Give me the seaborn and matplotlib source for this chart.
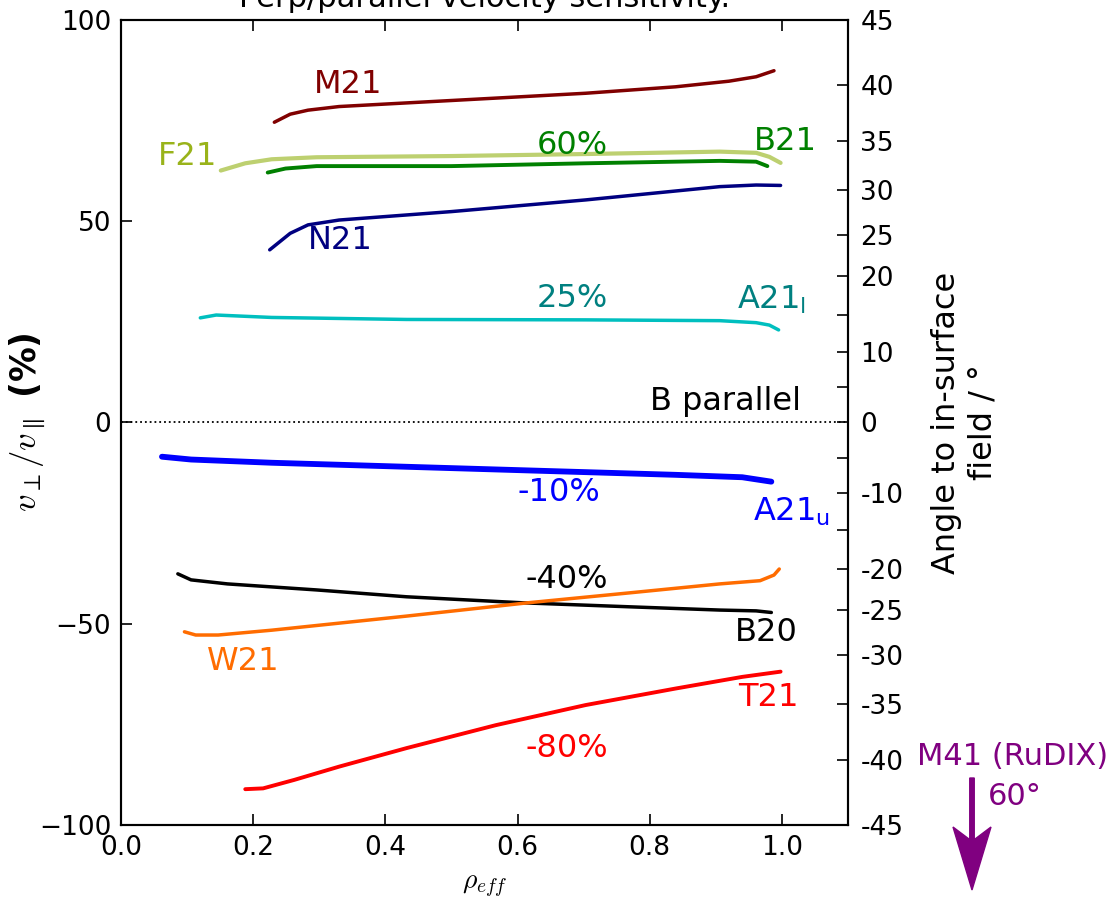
import numpy as np
import pandas as pd
import matplotlib
matplotlib.use("Agg")
import matplotlib.pyplot as plt
import matplotlib.patches as mpatches
import seaborn as sns

# ---------------- data ----------------
m21_x = [0.232, 0.256, 0.283, 0.330, 0.500, 0.703, 0.839, 0.920, 0.961, 0.988]
m21_y = [74.6, 76.6, 77.6, 78.5, 80.0, 81.8, 83.4, 84.8, 85.9, 87.4]

f21_x = [0.151, 0.188, 0.228, 0.296, 0.500, 0.703, 0.906, 0.961, 0.981, 0.998]
f21_y = [62.6, 64.4, 65.4, 65.9, 66.2, 66.7, 67.3, 67.0, 66.0, 64.5]

b21_x = [0.222, 0.249, 0.296, 0.500, 0.703, 0.906, 0.961, 0.978]
b21_y = [62.1, 63.1, 63.7, 63.7, 64.4, 65.0, 64.8, 63.7]

n21_x = [0.225, 0.256, 0.283, 0.330, 0.500, 0.703, 0.906, 0.961, 0.998]
n21_y = [42.9, 47.0, 49.1, 50.3, 52.4, 55.3, 58.6, 59.0, 58.9]

a21l_x = [0.120, 0.144, 0.228, 0.432, 0.703, 0.906, 0.961, 0.981, 0.995]
a21l_y = [26.0, 26.7, 26.1, 25.6, 25.5, 25.3, 24.8, 24.2, 23.0]

a21u_x = [0.062, 0.106, 0.228, 0.432, 0.635, 0.839, 0.940, 0.984]
a21u_y = [-8.5, -9.2, -10.0, -11.0, -12.0, -13.0, -13.6, -14.7]

b20_x = [0.086, 0.106, 0.161, 0.296, 0.432, 0.608, 0.771, 0.906, 0.961, 0.984]
b20_y = [-37.6, -39.1, -40.1, -41.6, -43.3, -44.8, -45.8, -46.6, -46.8, -47.2]

w21_x = [0.096, 0.113, 0.147, 0.228, 0.432, 0.615, 0.771, 0.906, 0.967, 0.988, 0.996]
w21_y = [-52.0, -52.8, -52.8, -51.6, -48.1, -44.8, -42.3, -40.1, -39.3, -37.9, -36.4]

t21_x = [0.188, 0.215, 0.262, 0.330, 0.432, 0.567, 0.703, 0.839, 0.940, 0.998]
t21_y = [-91.1, -90.9, -88.8, -85.5, -80.9, -75.2, -70.2, -66.1, -63.2, -61.9]

x_ticks = [0.0, 0.2, 0.4, 0.6, 0.8, 1.0]
y_ticks = [-100, -50, 0, 50, 100]
angle_ticks = [45, 40, 35, 30, 25, 20, 15, 10, 5, 0, -5, -10, -15, -20, -25, -30, -35, -40, -45]
angle_labels = ["45", "40", "35", "30", "25", "20", "", "10", "", "0", "", "-10", "",
                "-20", "-25", "-30", "-35", "-40", "-45"]

# ---------------- style ----------------
sns.set_style("ticks")
plt.rcParams["font.family"] = ["DejaVu Sans"]
plt.rcParams["mathtext.fontset"] = "cm"
plt.rcParams["xtick.direction"] = "in"
plt.rcParams["ytick.direction"] = "in"
plt.rcParams["axes.linewidth"] = 1.5
plt.rcParams["axes.edgecolor"] = "black"
plt.rcParams["text.color"] = "black"
plt.rcParams["axes.labelcolor"] = "black"
plt.rcParams["xtick.color"] = "black"
plt.rcParams["ytick.color"] = "black"

fig = plt.figure(figsize=(11.17, 9.0), dpi=100)
ax = fig.add_axes([121 / 1117, 1 - 825 / 900, (848 - 121) / 1117, (825 - 20) / 900])

series = [
    (m21_x, m21_y, "#800000", 2.5),
    (f21_x, f21_y, "#bdd070", 3.0),
    (b21_x, b21_y, "#008000", 2.8),
    (n21_x, n21_y, "#000080", 2.5),
    (a21l_x, a21l_y, "#00bfbf", 2.5),
    (a21u_x, a21u_y, "#0000ff", 4.2),
    (b20_x, b20_y, "#000000", 2.5),
    (w21_x, w21_y, "#ff6c00", 2.5),
    (t21_x, t21_y, "#ff0000", 2.8),
]
for xs, ys, col, lw in series:
    df = pd.DataFrame({"x": xs, "y": ys})
    sns.lineplot(data=df, x="x", y="y", ax=ax, color=col, lw=lw,
                 sort=False, estimator=None)

ax.axhline(0, color="black", ls=":", lw=1.3)

ax.set_xlim(0, 1.1)
ax.set_ylim(-100, 100)
ax.set_xticks(x_ticks)
ax.set_yticks(y_ticks)
ax.tick_params(axis="both", which="major", labelsize=19, length=8, width=1.2,
               top=True, right=False, pad=7)
ax.set_xlabel(r"$\rho_{eff}$", fontsize=20, labelpad=8)
ax.set_ylabel(r"$v_\perp/v_\parallel$ (%)", fontsize=25, fontweight="bold")
ax.yaxis.set_label_coords(-0.10, 0.5)
ax.set_title("Perp/parallel velocity sensitivity.", fontsize=22, pad=9)

# annotations
labels = [
    ("M21", 0.344, 83.9, "#800000"),
    ("F21", 0.100, 66.2, "#99b31a"),
    ("60%", 0.683, 68.7, "#008000"),
    ("B21", 1.006, 69.7, "#008000"),
    ("N21", 0.332, 45.3, "#000080"),
    ("25%", 0.683, 30.9, "#008080"),
    (r"A21$_\mathregular{l}$", 0.985, 30.4, "#008080"),
    ("B parallel", 0.914, 5.1, "#000000"),
    ("-10%", 0.662, -17.3, "#0000ff"),
    (r"A21$_\mathregular{u}$", 1.015, -22.2, "#0000ff"),
    ("-40%", 0.674, -39.1, "#000000"),
    ("B20", 0.977, -52.1, "#000000"),
    ("W21", 0.185, -59.5, "#ff6c00"),
    ("T21", 0.980, -68.2, "#ff0000"),
    ("-80%", 0.674, -80.9, "#ff0000"),
]
for txt, tx, ty, col in labels:
    ax.text(tx, ty, txt, color=col, fontsize=23, ha="center", va="center",
            math_fontfamily="dejavusans")

# right axis: angle to in-surface field
ax2 = ax.twinx()
ax2.set_ylim(-100, 100)
ax2.set_yticks(np.tan(np.radians(angle_ticks)) * 100)
ax2.set_yticklabels(angle_labels)
ax2.tick_params(axis="y", labelsize=19, length=8, width=1.2, direction="in", pad=9)
ax2.set_ylabel("Angle to in-surface\nfield / \u00b0", fontsize=23, labelpad=20)
for sp in ax2.spines.values():
    sp.set_linewidth(1.5)

# M41 annotation outside axes
fig.text(917 / 1117, 1 - 765 / 900, "M41 (RuDIX)", color="#800080", fontsize=22,
         ha="left", va="baseline")
fig.text(988 / 1117, 1 - 805 / 900, "60\u00b0", color="#800080", fontsize=22,
         ha="left", va="baseline")
arrow = mpatches.FancyArrow(9.72, 1.22, 0.0, -1.12, width=0.045, head_width=0.38,
                            head_length=0.63, overhang=0.2, length_includes_head=True,
                            color="#800080", transform=fig.dpi_scale_trans)
fig.add_artist(arrow)

fig.savefig("out.png", dpi=100)
